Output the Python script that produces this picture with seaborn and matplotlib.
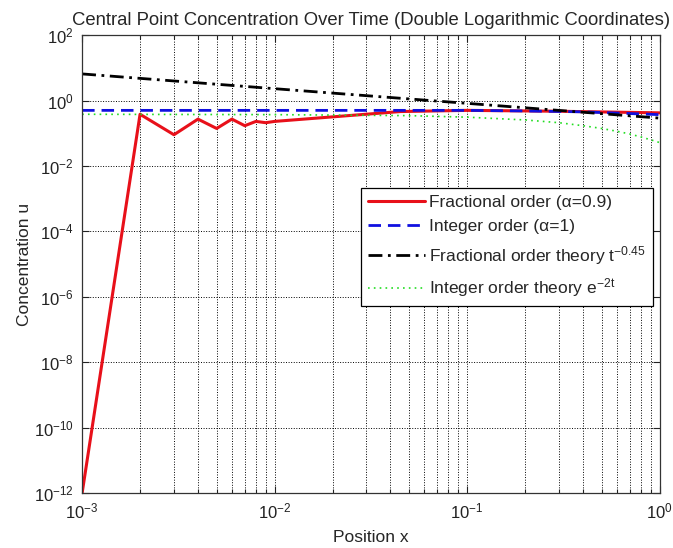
import matplotlib
matplotlib.use("Agg")
import matplotlib.pyplot as plt
import seaborn as sns
from matplotlib.ticker import LogLocator, LogFormatterMathtext, NullLocator, NullFormatter

# values
frac_x = [0.001, 0.002, 0.003, 0.004, 0.005, 0.006, 0.007, 0.008, 0.009, 0.010,
          0.045, 0.1, 0.3, 1.0]
frac_y = [1e-12, 0.38, 0.09, 0.27, 0.14, 0.27, 0.17, 0.23, 0.21, 0.23,
          0.46, 0.50, 0.47, 0.42]

int_x = [0.001, 0.01, 0.1, 0.2, 0.4, 0.7, 1.0]
int_y = [0.50, 0.50, 0.50, 0.48, 0.45, 0.40, 0.37]

frac_theory_x = [0.001, 0.01, 0.1, 1.0]
frac_theory_y = [6.5, 2.3, 0.82, 0.29]

int_theory_x = [0.001, 0.01, 0.05, 0.1, 0.2, 0.3, 0.4, 0.5, 0.6, 0.7, 0.8, 0.9, 1.0]
int_theory_y = [0.38, 0.37, 0.345, 0.31, 0.255, 0.21, 0.17, 0.14, 0.115, 0.095,
                0.077, 0.063, 0.052]

labels = [
    "Fractional order (α=0.9)",
    "Integer order (α=1)",
    "Fractional order theory t$^{-0.45}$",
    "Integer order theory e$^{-2t}$",
]

sns.set_style("ticks")
plt.rcParams['font.family'] = ['Liberation Sans', 'DejaVu Sans']
plt.rcParams['mathtext.fontset'] = 'custom'
plt.rcParams['mathtext.rm'] = 'Liberation Sans'
plt.rcParams['mathtext.it'] = 'Liberation Sans:italic'
plt.rcParams['mathtext.default'] = 'regular'

fig = plt.figure(figsize=(6.73, 5.48), dpi=100)
ax = fig.add_axes([0.122, 0.10, 0.858, 0.836])

sns.lineplot(x=frac_x, y=frac_y, color='#e8101a', linewidth=2.2,
             label=labels[0], ax=ax)
sns.lineplot(x=int_x, y=int_y, color='#1010e0', linewidth=2.0,
             linestyle=(0, (4.5, 2.5)), label=labels[1], ax=ax)
sns.lineplot(x=frac_theory_x, y=frac_theory_y, color='black', linewidth=2.0,
             linestyle=(0, (5, 2, 1, 2)), label=labels[2], ax=ax)
sns.lineplot(x=int_theory_x, y=int_theory_y, color='#22dd22', linewidth=1.2,
             linestyle=(0, (1, 2.5)), label=labels[3], ax=ax)

ax.set_xscale('log')
ax.set_yscale('log')
ax.set_xlim(1e-3, 1)
ax.set_ylim(1e-12, 1e2)

ax.xaxis.set_major_locator(LogLocator(base=10, numticks=10))
ax.xaxis.set_minor_locator(LogLocator(base=10, subs=range(2, 10), numticks=20))
ax.xaxis.set_minor_formatter(NullFormatter())
ax.set_yticks([10.0 ** e for e in range(-12, 3, 2)])
ax.yaxis.set_major_formatter(LogFormatterMathtext())
ax.yaxis.set_minor_locator(NullLocator())

ax.set_axisbelow(True)
ax.grid(True, which='major', axis='both', linestyle=':', color='black', linewidth=0.7)
ax.grid(True, which='minor', axis='x', linestyle=':', color='black', linewidth=0.7)

ax.tick_params(which='both', direction='in', top=True, right=True, labelsize=12,
               colors='#222222')
ax.tick_params(which='major', length=5, width=0.8, pad=6)
ax.tick_params(which='minor', length=3, width=0.8)
for s in ax.spines.values():
    s.set_color('#333333')
    s.set_linewidth(0.9)

ax.set_title("Central Point Concentration Over Time (Double Logarithmic Coordinates)",
             fontsize=13.3, pad=7)
ax.set_xlabel("Position x", fontsize=12.5, labelpad=6)
ax.set_ylabel("Concentration u", fontsize=12.5, labelpad=1)

leg = ax.legend(loc='upper right', bbox_to_anchor=(0.988, 0.667), fontsize=12.5,
                frameon=True, fancybox=False, framealpha=1, edgecolor='black',
                handlelength=3.3, handletextpad=0.2, borderpad=0.4,
                labelspacing=0.55, borderaxespad=0)
leg.get_frame().set_linewidth(0.9)

fig.savefig("out.png", dpi=100)
